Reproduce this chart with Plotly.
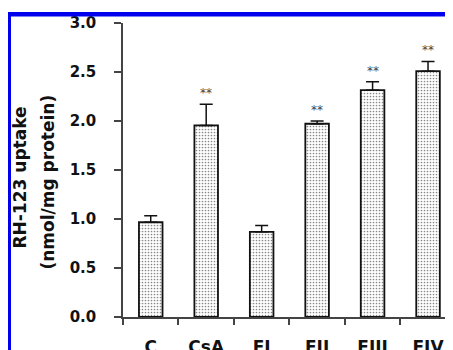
import plotly.graph_objects as go

categories = ["C", "CsA", "FI", "FII", "FIII", "FIV"]
uptake = [0.967, 1.955, 0.869, 1.972, 2.315, 2.508]
sem = [0.065, 0.217, 0.064, 0.028, 0.085, 0.10]
significance = ["", "**", "", "**", "**", "**"]
y_ticks = [0.0, 0.5, 1.0, 1.5, 2.0, 2.5, 3.0]
y_title_lines = ["RH-123 uptake", "(nmol/mg protein)"]

# page body has an 8px default margin; lay out in window pixels
OFF = 8
W, H = 453, 350
ML, MR, MT, MB = 123 - OFF, OFF, 23 - OFF, 350 - (317 - OFF)
pw, ph = W - ML - MR, H - MT - MB

def px_x(x):
    return (x - OFF - ML) / pw

def px_y(y):
    return (H - MB - (y - OFF)) / ph

fig = go.Figure()
fig.add_trace(go.Bar(
    x=categories, y=uptake, width=0.425,
    marker=dict(
        color="white",
        line=dict(color="#111", width=1.8),
        pattern=dict(shape=".", fgcolor="#111", bgcolor="white", size=3, solidity=0.25),
    ),
    error_y=dict(type="data", symmetric=False, array=sem, arrayminus=[0] * len(sem),
                 color="#111", thickness=1.5, width=6.5),
    hoverinfo="skip",
))

for c, v, e, s in zip(categories, uptake, sem, significance):
    if s:
        fig.add_annotation(x=c, y=v + e, text=s, showarrow=False, xref="x", yref="y",
                           yanchor="middle", yshift=11,
                           font=dict(family="DejaVu Sans", size=12, color="#444"))

fig.add_annotation(x=px_x(19), y=px_y(177.5), xref="paper", yref="paper", text=f"<b>{y_title_lines[0]}</b>",
                   textangle=-90, showarrow=False, xanchor="center", yanchor="middle",
                   font=dict(family="DejaVu Sans", size=17, color="#111"))
fig.add_annotation(x=px_x(47), y=px_y(182.5), xref="paper", yref="paper", text=f"<b>{y_title_lines[1]}</b>",
                   textangle=-90, showarrow=False, xanchor="center", yanchor="middle",
                   font=dict(family="DejaVu Sans", size=17, color="#111"))

# blue frame
fig.add_shape(type="line", xref="paper", yref="paper", x0=px_x(9), x1=px_x(9), y0=px_y(12), y1=px_y(370),
              line=dict(color="#0000ee", width=4))
fig.add_shape(type="line", xref="paper", yref="paper", x0=px_x(7), x1=px_x(460), y0=px_y(14.3), y1=px_y(14.3),
              line=dict(color="#0000ee", width=4.5))
fig.add_shape(type="line", xref="paper", yref="paper", x0=px_x(452.5), x1=px_x(452.5), y0=px_y(12), y1=px_y(370),
              line=dict(color="#0000ee", width=1.5))

fig.update_layout(
    width=W, height=H,
    margin=dict(l=ML, r=MR, t=MT, b=MB, pad=0, autoexpand=False),
    paper_bgcolor="white", plot_bgcolor="white",
    showlegend=False,
    bargap=0.575,
    xaxis=dict(
        range=[-0.5, 5.45], tickson="boundaries", ticks="outside", ticklen=6, tickwidth=1.5,
        tickcolor="#444", showline=True, linecolor="#444", linewidth=1.5, showgrid=False,
        zeroline=False, ticklabelstandoff=14, automargin=False,
        tickfont=dict(family="DejaVu Sans", size=17, color="#111", weight="bold"),
    ),
    yaxis=dict(
        range=[0, 3.0], tickvals=y_ticks, ticktext=[f"{t:.1f}" for t in y_ticks],
        ticks="outside", ticklen=7, tickwidth=1.5, tickcolor="#444",
        showline=True, linecolor="#444", linewidth=1.5, showgrid=False, zeroline=False,
        ticklabelstandoff=15, automargin=False,
        tickfont=dict(family="DejaVu Sans", size=15, color="#111", weight="bold"),
    ),
)

fig.write_html("out.html")
